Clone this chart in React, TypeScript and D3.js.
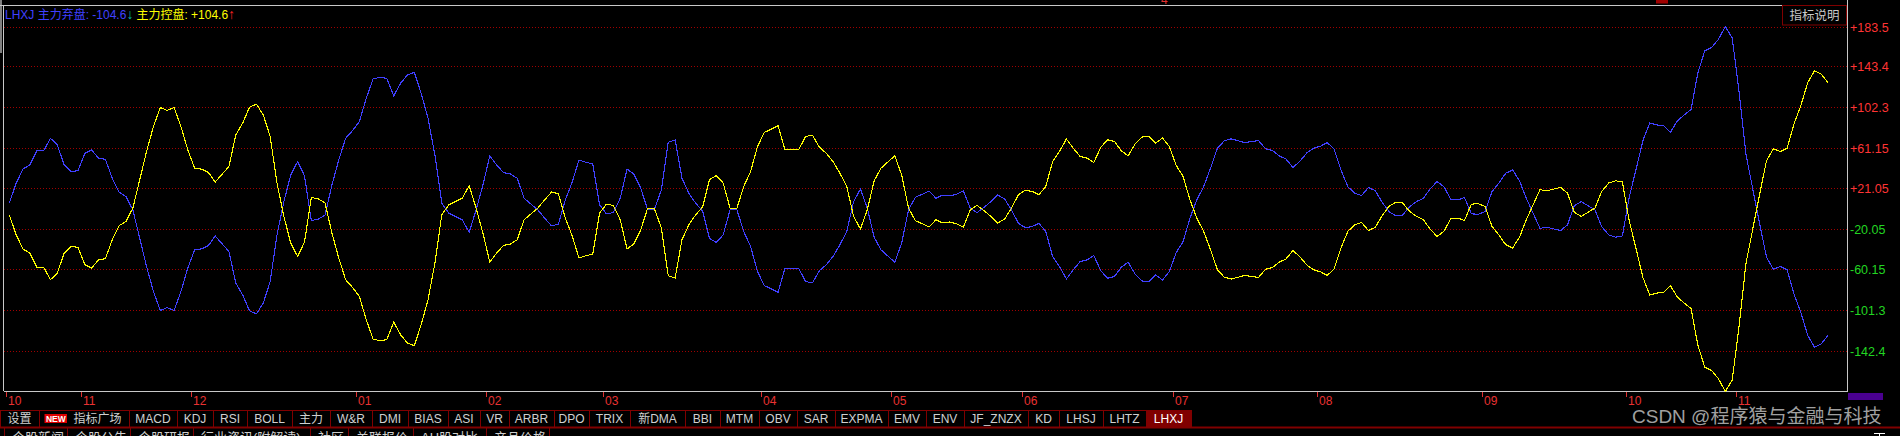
import * as d3 from 'd3';

// trading-day index of each reading (a few days skipped where nothing changes)
const days = [
  0, 1, 2, 3, 4, 5, 6, 7, 8, 9,
  10, 11, 12, 13, 14, 15, 16, 17, 18, 19,
  20, 21, 22, 23, 24, 25, 26, 27, 28, 29,
  30, 32, 33, 34, 35, 36, 37, 38, 39, 40,
  41, 42, 43, 44, 45, 46, 47, 48, 49, 50,
  51, 52, 53, 54, 55, 56, 57, 58, 59, 60,
  61, 62, 63, 64, 65, 66, 67, 68, 69, 70,
  71, 72, 73, 74, 75, 77, 78, 79, 80, 81,
  82, 83, 84, 85, 86, 87, 88, 89, 90, 91,
  92, 93, 94, 95, 96, 97, 98, 99, 100, 101,
  102, 103, 104, 105, 106, 107, 108, 109, 110, 111,
  112, 113, 114, 115, 116, 117, 118, 119, 120, 121,
  122, 123, 124, 125, 126, 127, 129, 130, 131, 132,
  133, 134, 135, 136, 137, 138, 139, 140, 141, 142,
  143, 144, 145, 146, 147, 148, 149, 150, 151, 152,
  153, 154, 155, 156, 157, 158, 159, 160, 161, 162,
  163, 164, 165, 166, 167, 168, 169, 170, 171, 172,
  173, 174, 175, 176, 177, 178, 180, 181, 182, 183,
  184, 185, 186, 187, 188, 189, 190, 191, 192, 193,
  194, 195, 196, 197, 198, 199, 200, 201, 202, 203,
  204, 205, 206, 207, 208, 209, 210, 211, 212, 213,
  214, 215, 216, 217, 218, 219, 220, 221, 222, 223,
  224, 225, 226, 227, 228, 229, 231, 232, 233, 234,
  235, 236, 237, 238, 239, 240, 241, 242, 243, 244,
  245, 246, 247, 248, 249, 250, 251, 252, 253, 254,
  255, 256, 257, 258, 259, 260, 261, 262, 263, 264, 265,
];

// 主力控盘 (yellow)
const kongpan = [
  -5.9, -25.9, -40.3, -44.3, -58.4, -58.4, -71.1, -64.4, -44.3, -37.6,
  -38.6, -56.0, -59.4, -51.0, -50.0, -30.9, -16.8, -12.5, 0.9, 29.4,
  57.9, 83.0, 102.1, 99.1, 102.1, 83.0, 59.5, 41.1, 40.1, 36.8,
  27.1, 42.8, 74.6, 86.4, 102.4, 105.4, 94.7, 73.0, 26.1, -7.4,
  -34.2, -47.6, -33.5, 11.6, 10.3, 6.0, -24.2, -49.3, -71.1, -78.8,
  -87.9, -111.3, -130.8, -132.4, -131.4, -113.7, -126.4, -134.8, -137.4, -116.4,
  -91.3, -54.5, -6.0, 4.0, 7.6, 11.0, 23.4, 0.9, -24.2, -53.4,
  -44.3, -36.6, -35.3, -30.9, -10.8, 0.9, 9.3, 17.0, 15.3, -9.1,
  -26.9, -49.3, -47.0, -45.3, -4.1, 4.9, 3.6, -10.8, -40.3, -34.9,
  -20.8, 0.9, 0.0, -19.2, -67.1, -69.5, -30.9, -15.8, -5.8, 1.9,
  29.4, 33.7, 26.1, 0.9, 0.9, 22.7, 37.8, 62.9, 77.0, 80.3,
  83.7, 59.5, 59.5, 59.5, 72.9, 74.3, 62.2, 56.2, 47.8, 36.1,
  22.7, -7.4, -20.1, -0.7, 28.4, 41.1, 53.5, 34.4, 0.9, -11.8,
  -14.8, -18.2, -10.8, -14.1, -13.1, -14.8, -18.2, -0.7, 3.6, -1.7,
  -7.4, -14.1, -10.1, 0.9, 14.3, 18.7, 17.7, 14.3, 22.7, 47.8,
  57.9, 70.3, 61.2, 52.9, 51.2, 46.8, 61.9, 69.6, 67.9, 58.5,
  53.5, 65.2, 72.3, 73.0, 66.3, 71.3, 62.9, 43.8, 32.8, 9.3,
  -9.1, -22.5, -41.0, -61.1, -68.5, -70.5, -66.8, -67.9, -68.8, -60.6,
  -58.9, -53.5, -50.2, -41.8, -47.8, -56.2, -61.1, -63.1, -66.8, -60.4,
  -39.3, -22.5, -15.8, -13.5, -21.5, -18.5, -6.8, 2.6, 7.0, 6.0,
  -2.4, -7.4, -10.8, -20.2, -27.6, -22.5, -9.8, -9.1, -11.5, 4.9,
  5.3, 2.6, -17.5, -25.9, -35.9, -39.3, -28.6, -10.8, 4.3, 19.4,
  18.4, 20.0, 21.7, 16.0, -3.4, -7.4, 0.9, 17.7, 26.1, 28.4,
  27.1, -12.0, -40.0, -69.0, -86.5, -84.5, -83.8, -77.1, -88.5, -94.5,
  -100.0, -137.0, -159.0, -162.4, -170.7, -183.5, -172.0, -118.0, -55.0, -20.0,
  15.0, 48.5, 60.5, 57.8, 61.1, 85.5, 104.0, 127.0, 139.0, 135.4, 126.5,
];

// 主力弃盘 (blue)
const qipan = [
  5.9, 25.9, 40.3, 44.3, 58.4, 58.4, 71.1, 64.4, 44.3, 37.6,
  38.6, 56.0, 59.4, 51.0, 50.0, 30.9, 16.8, 12.5, -0.9, -29.4,
  -57.9, -83.0, -102.1, -99.1, -102.1, -83.0, -59.5, -41.1, -40.1, -36.8,
  -27.1, -42.8, -74.6, -86.4, -102.4, -105.4, -94.7, -73.0, -26.1, 7.4,
  34.2, 47.6, 33.5, -11.6, -10.3, -6.0, 24.2, 49.3, 71.1, 78.8,
  87.9, 111.3, 130.8, 132.4, 131.4, 113.7, 126.4, 134.8, 137.4, 116.4,
  91.3, 54.5, 6.0, -4.0, -7.6, -11.0, -23.4, -0.9, 24.2, 53.4,
  44.3, 36.6, 35.3, 30.9, 10.8, -0.9, -9.3, -17.0, -15.3, 9.1,
  26.9, 49.3, 47.0, 45.3, 4.1, -4.9, -3.6, 10.8, 40.3, 34.9,
  20.8, -0.9, 0.0, 19.2, 67.1, 69.5, 30.9, 15.8, 5.8, -1.9,
  -29.4, -33.7, -26.1, -0.9, -0.9, -22.7, -37.8, -62.9, -77.0, -80.3,
  -83.7, -59.5, -59.5, -59.5, -72.9, -74.3, -62.2, -56.2, -47.8, -36.1,
  -22.7, 7.4, 20.1, 0.7, -28.4, -41.1, -53.5, -34.4, -0.9, 11.8,
  14.8, 18.2, 10.8, 14.1, 13.1, 14.8, 18.2, 0.7, -3.6, 1.7,
  7.4, 14.1, 10.1, -0.9, -14.3, -18.7, -17.7, -14.3, -22.7, -47.8,
  -57.9, -70.3, -61.2, -52.9, -51.2, -46.8, -61.9, -69.6, -67.9, -58.5,
  -53.5, -65.2, -72.3, -73.0, -66.3, -71.3, -62.9, -43.8, -32.8, -9.3,
  9.1, 22.5, 41.0, 61.1, 68.5, 70.5, 66.8, 67.9, 68.8, 60.6,
  58.9, 53.5, 50.2, 41.8, 47.8, 56.2, 61.1, 63.1, 66.8, 60.4,
  39.3, 22.5, 15.8, 13.5, 21.5, 18.5, 6.8, -2.6, -7.0, -6.0,
  2.4, 7.4, 10.8, 20.2, 27.6, 22.5, 9.8, 9.1, 11.5, -4.9,
  -5.3, -2.6, 17.5, 25.9, 35.9, 39.3, 28.6, 10.8, -4.3, -19.4,
  -18.4, -20.0, -21.7, -16.0, 3.4, 7.4, -0.9, -17.7, -26.1, -28.4,
  -27.1, 12.0, 40.0, 69.0, 86.5, 84.5, 83.8, 77.1, 88.5, 94.5,
  100.0, 137.0, 159.0, 162.4, 170.7, 183.5, 172.0, 118.0, 55.0, 20.0,
  -15.0, -48.5, -60.5, -57.8, -61.1, -85.5, -104.0, -127.0, -139.0, -135.4, -126.5,
];

const gridValues = [183.5, 143.4, 102.3, 61.15, 21.05, -20.05, -60.15, -101.3, -142.4];
const gridLabels = ['+183.5', '+143.4', '+102.3', '+61.15', '+21.05', '-20.05', '-60.15', '-101.3', '-142.4'];

const monthLabels = ['10', '11', '12', '01', '02', '03', '04', '05', '06', '07', '08', '09', '10', '11'];
const monthStartDays = [0, 11, 27, 51, 70, 87, 110, 129, 148, 170, 191, 215, 236, 252];

const tabLabels = [
  '设置', '指标广场', 'MACD', 'KDJ', 'RSI', 'BOLL', '主力', 'W&R', 'DMI', 'BIAS', 'ASI', 'VR',
  'ARBR', 'DPO', 'TRIX', '新DMA', 'BBI', 'MTM', 'OBV', 'SAR', 'EXPMA', 'EMV', 'ENV',
  'JF_ZNZX', 'KD', 'LHSJ', 'LHTZ', 'LHXJ',
];
const newsLabels = ['个股新闻', '个股公告', '个股研报', '行业资讯(附解读)', '社区', '关联报价', 'AH股对比', '产品价格'];

// tab bar layout (px)
const tabEdges = [0, 39, 129, 177, 213, 247, 292, 330, 372, 408, 448, 480, 509, 554, 589, 630, 685,
  720, 759, 797, 835, 888, 926, 964, 1028, 1059, 1103, 1146, 1191];
const newsEdges = [4, 67, 130, 193, 310, 348, 413, 486, 549];

const FONT = "'Liberation Sans', 'Noto Sans CJK SC', sans-serif";
const DARK_RED = '#800000';
const FRAME = '#c8c8c8';
const BLUE = '#4040ff';
const YELLOW = '#ffff00';

export default function App(): React.ReactNode {
  const x = d3.scaleLinear().domain([0, 265]).range([9.3, 1828.3]);
  const y = d3.scaleLinear().domain([-183.5, 183.5]).range([391.5, 26.5]);
  const step = x(1) - x(0);

  const line = d3
    .line<number>()
    .x((_, i) => x(days[i]))
    .y((d) => y(d));

  const left = 4;
  const right = 1847;
  const bottom = 391;

  return (
    <svg
      width={1900}
      height={436}
      style={{ position: 'absolute', left: 0, top: 0, background: '#000' }}
      fontFamily={FONT}
    >
      <rect width={1900} height={436} fill="#000" />

      {/* grid */}
      {gridValues.map((v) => (
        <line
          key={v}
          x1={left}
          x2={right}
          y1={Math.round(y(v)) + 0.5}
          y2={Math.round(y(v)) + 0.5}
          stroke="#a00000"
          strokeDasharray="1 2"
        />
      ))}

      {/* frame */}
      <rect x={0} y={0} width={2} height={53} fill="#808080" />
      <line x1={0} x2={right} y1={5.5} y2={5.5} stroke={FRAME} />
      <line x1={left - 0.5} x2={left - 0.5} y1={5} y2={bottom} stroke={FRAME} />
      <line x1={right + 0.5} x2={right + 0.5} y1={0} y2={bottom + 1} stroke={FRAME} />
      <line x1={left} x2={right} y1={bottom + 0.5} y2={bottom + 0.5} stroke={FRAME} />

      {/* series */}
      <path d={line(qipan) ?? ''} fill="none" stroke={BLUE} strokeWidth={1.1} shapeRendering="crispEdges" />
      <path d={line(kongpan) ?? ''} fill="none" stroke={YELLOW} strokeWidth={1.1} shapeRendering="crispEdges" />

      {/* header */}
      <text x={5} y={19} fontSize={12}>
        <tspan fill={BLUE}>LHXJ 主力弃盘: -104.6</tspan>
        <tspan fill="#00b8a8" fontSize={14} fontWeight="bold">↓</tspan>
        <tspan fill={YELLOW} dx={3}>主力控盘: +104.6</tspan>
        <tspan fill="#ff2020" fontSize={14} fontWeight="bold">↑</tspan>
      </text>

      {/* clipped marks at top edge */}
      <text x={1161} y={4} fontSize={12} fill="#e03030">4</text>
      <rect x={1656} y={0} width={12} height={3.5} fill="#a00000" />

      {/* 指标说明 button */}
      <rect x={1782.5} y={5.5} width={64} height={19.5} fill="#000" stroke={DARK_RED} />
      <text x={1814.5} y={20} fontSize={12.5} fill="#c8c8c8" textAnchor="middle">指标说明</text>

      {/* right axis */}
      {gridValues.map((v, i) => (
        <text
          key={v}
          x={1850}
          y={Math.round(y(v)) + 4.5}
          fontSize={12.5}
          fill={v > 0 ? '#ff3434' : '#22d622'}
        >
          {gridLabels[i]}
        </text>
      ))}
      <rect x={1848} y={393} width={35} height={7} fill="#4a0090" />

      {/* month axis */}
      {monthStartDays.map((d, i) => {
        const tx = Math.round(x(d) - step / 2) + 0.5;
        return (
          <g key={i}>
            <line x1={tx} x2={tx} y1={392} y2={397} stroke="#e03030" />
            <text x={tx + 1.5} y={405} fontSize={12} fill="#e83232">
              {monthLabels[i]}
            </text>
          </g>
        );
      })}

      {/* tab bar */}
      <line x1={0} x2={tabEdges[tabEdges.length - 1]} y1={410.5} y2={410.5} stroke={DARK_RED} />
      <rect x={tabEdges[tabEdges.length - 2]} y={411} width={tabEdges[tabEdges.length - 1] - tabEdges[tabEdges.length - 2]} height={16} fill={DARK_RED} />
      {tabEdges.map((e) => (
        <line key={e} x1={e + 0.5} x2={e + 0.5} y1={410} y2={427} stroke={DARK_RED} />
      ))}
      {tabLabels.map((t, i) => {
        const a = tabEdges[i];
        const b = tabEdges[i + 1];
        const selected = i === tabLabels.length - 1;
        if (t === '指标广场') {
          return (
            <g key={t}>
              <rect x={44.5} y={414} width={22.5} height={9} fill="#e00000" />
              <text x={55.8} y={421.8} fontSize={8.5} fontWeight="bold" fill="#fff" textAnchor="middle">NEW</text>
              <text x={73.5} y={423} fontSize={12} fill="#d0d0d0">{t}</text>
            </g>
          );
        }
        return (
          <text
            key={t}
            x={(a + b) / 2}
            y={423}
            fontSize={12}
            fill={selected ? '#ffffff' : '#d0d0d0'}
            textAnchor="middle"
          >
            {t}
          </text>
        );
      })}
      <rect x={0} y={426.5} width={1900} height={2} fill={DARK_RED} />

      {/* second row, mostly cut off */}
      {newsEdges.map((e) => (
        <line key={e} x1={e + 0.5} x2={e + 0.5} y1={428} y2={436} stroke={DARK_RED} />
      ))}
      {newsLabels.map((t, i) => (
        <text key={t} x={newsEdges[i] + 8} y={442} fontSize={13} fill="#d0d0d0">
          {t}
        </text>
      ))}
      <line x1={1874} x2={1885} y1={433.5} y2={433.5} stroke="#fff" />
      <line x1={1879.5} x2={1879.5} y1={433} y2={436} stroke="#fff" />

      {/* watermark */}
      <text x={1632} y={423} fontSize={19} fill="#a0a0a0">CSDN @程序猿与金融与科技</text>
    </svg>
  );
}
